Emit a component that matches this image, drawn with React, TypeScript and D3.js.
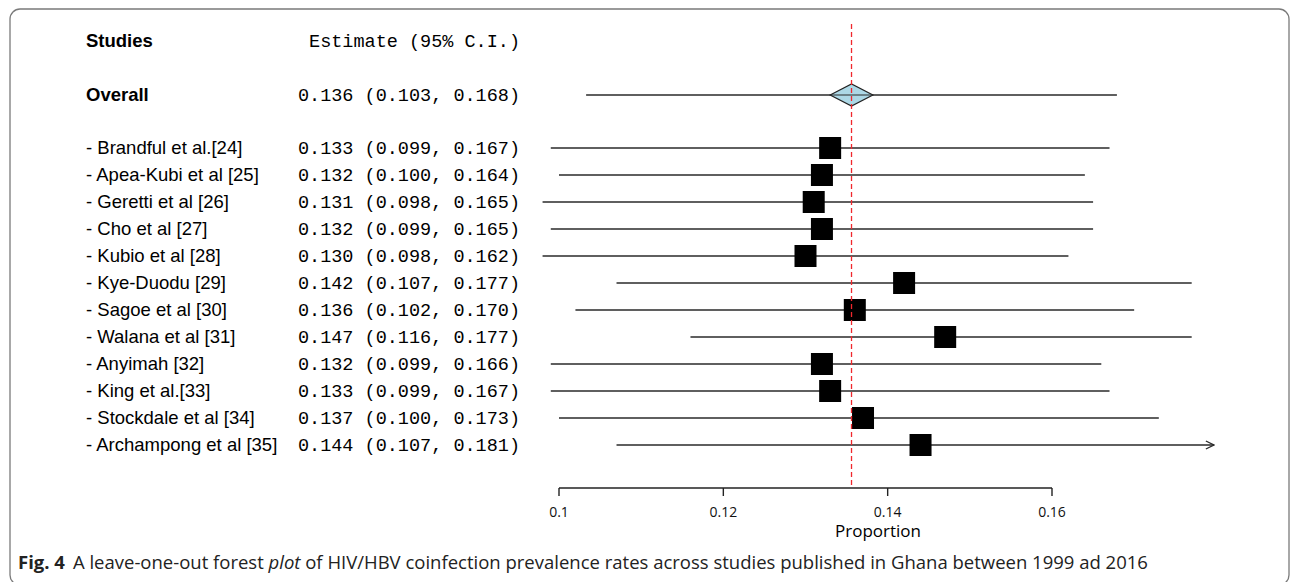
import React from "react";
import * as d3 from "d3";

const studies = [
  "- Brandful et al.[24]",
  "- Apea-Kubi et al [25]",
  "- Geretti et al [26]",
  "- Cho et al [27]",
  "- Kubio et al [28]",
  "- Kye-Duodu [29]",
  "- Sagoe et al [30]",
  "- Walana et al [31]",
  "- Anyimah [32]",
  "- King et al.[33]",
  "- Stockdale et al [34]",
  "- Archampong et al [35]",
];
const estimates = [0.133, 0.132, 0.131, 0.132, 0.13, 0.142, 0.136, 0.147, 0.132, 0.133, 0.137, 0.144];
const lowers = [0.099, 0.1, 0.098, 0.099, 0.098, 0.107, 0.102, 0.116, 0.099, 0.099, 0.1, 0.107];
const uppers = [0.167, 0.164, 0.165, 0.165, 0.162, 0.177, 0.17, 0.177, 0.166, 0.167, 0.173, 0.181];

const overallEstimate = 0.1356;
const overallLower = 0.1033;
const overallUpper = 0.1679;
const diamondLower = 0.133;
const diamondUpper = 0.1382;

const axisTicks = [0.1, 0.12, 0.14, 0.16];
const plotMax = 0.1797;

const f3 = d3.format(".3f");
const ciText = (e: number, l: number, u: number) => `${f3(e)} (${f3(l)}, ${f3(u)})`;

export default function App() {
  const x = d3.scaleLinear().domain([0.1, 0.16]).range([559, 1052]);
  const rowY = d3.scaleLinear().domain([0, 1]).range([148, 175]);
  const overallY = 95;
  const headerY = 41;
  const axisY = 488;
  const sq = 22;
  const labelFont = "'Liberation Sans', Arial, sans-serif";
  const monoFont = "'Liberation Mono', 'Courier New', monospace";
  const lineColor = "#2a2a2a";

  return (
    <div style={{ position: "absolute", left: 0, top: 0 }}>
      <svg width={1290} height={582} style={{ display: "block" }}>
        <defs>
          <marker id="arr" viewBox="0 0 10 10" refX="9" refY="5" markerWidth="10" markerHeight="10" orient="auto" markerUnits="userSpaceOnUse">
            <path d="M1,1 L9,5 L1,9" fill="none" stroke={lineColor} strokeWidth={1.3} />
          </marker>
        </defs>
        <rect x={10} y={9} width={1279} height={576} rx={10} ry={10} fill="white" stroke="#7a7a7a" strokeWidth={1.3} />

        {/* headers */}
        <text x={86} y={headerY} dy="0.35em" fontFamily={labelFont} fontWeight="bold" fontSize={18.5} fill="#000">Studies</text>
        <text x={520} y={headerY} dy="0.35em" textAnchor="end" fontFamily={monoFont} fontSize={18.5} fill="#000">Estimate (95% C.I.)</text>
        <text x={86} y={overallY} dy="0.35em" fontFamily={labelFont} fontWeight="bold" fontSize={18.5} fill="#000">Overall</text>
        <text x={520} y={overallY} dy="0.35em" textAnchor="end" fontFamily={monoFont} fontSize={18.5} fill="#000">
          {ciText(overallEstimate, overallLower, overallUpper)}
        </text>

        {/* study rows */}
        {studies.map((s, i) => {
          const y = rowY(i);
          const hi = Math.min(uppers[i], plotMax);
          const clipped = uppers[i] > plotMax;
          return (
            <g key={s}>
              <text x={86} y={y} dy="0.35em" fontFamily={labelFont} fontSize={18.5} fill="#000">{s}</text>
              <text x={520} y={y} dy="0.35em" textAnchor="end" fontFamily={monoFont} fontSize={18.5} fill="#000">
                {ciText(estimates[i], lowers[i], uppers[i])}
              </text>
              <line x1={x(lowers[i])} x2={x(hi)} y1={y} y2={y} stroke={lineColor} strokeWidth={1.5} markerEnd={clipped ? "url(#arr)" : undefined} />
              <rect x={x(estimates[i]) - sq / 2} y={y - sq / 2} width={sq} height={sq} fill="#000" />
            </g>
          );
        })}

        {/* overall */}
        <line x1={x(overallLower)} x2={x(overallUpper)} y1={overallY} y2={overallY} stroke={lineColor} strokeWidth={1.5} />
        <path
          d={`M${x(diamondLower)},${overallY} L${x(overallEstimate)},${overallY - 11} L${x(diamondUpper)},${overallY} L${x(overallEstimate)},${overallY + 11} Z`}
          fill="#add8e6"
          stroke="#222"
          strokeWidth={1.2}
        />
        <line x1={x(diamondLower)} x2={x(diamondUpper)} y1={overallY} y2={overallY} stroke={lineColor} strokeWidth={1} />

        {/* reference line */}
        <line x1={x(overallEstimate)} x2={x(overallEstimate)} y1={24} y2={axisY - 3} stroke="#f0282d" strokeWidth={1.3} strokeDasharray="5,3" />

        {/* axis */}
        <line x1={x(0.1)} x2={x(0.16)} y1={axisY} y2={axisY} stroke="#222" strokeWidth={1.4} />
        {axisTicks.map((t) => (
          <g key={t}>
            <line x1={x(t)} x2={x(t)} y1={axisY} y2={axisY + 8} stroke="#222" strokeWidth={1.4} />
            <text x={x(t)} y={512} dy="0.35em" textAnchor="middle" fontFamily="'Open Sans', sans-serif" fontSize={14} fill="#111">
              {d3.format("")(t)}
            </text>
          </g>
        ))}
        <text x={878} y={531} dy="0.35em" textAnchor="middle" fontFamily="'Open Sans', sans-serif" fontSize={17} fill="#000">Proportion</text>

        {/* caption */}
        <text x={18} y={563} dy="0.35em" fontFamily="'Open Sans', sans-serif" fontSize={18.5} fill="#222">
          <tspan fontWeight="bold">Fig. 4</tspan>
          <tspan dx={8}>A leave-one-out forest </tspan>
          <tspan fontStyle="italic">plot</tspan>
          <tspan> of HIV/HBV coinfection prevalence rates across studies published in Ghana between 1999 ad 2016</tspan>
        </text>
      </svg>
    </div>
  );
}
